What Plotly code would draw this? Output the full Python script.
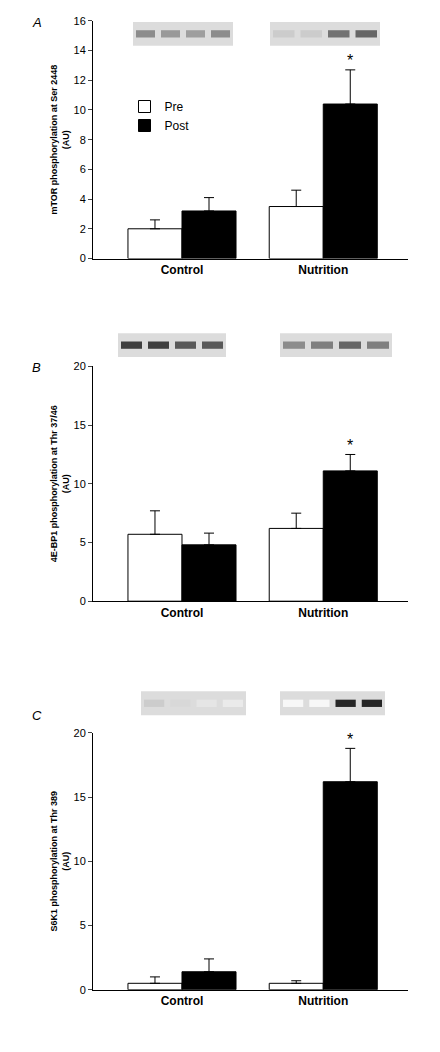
import plotly.graph_objects as go
from plotly.subplots import make_subplots

groups = ["Control", "Nutrition"]
# panel A: mTOR
a_pre = [2.0, 3.5]
a_pre_err = [0.6, 1.1]
a_post = [3.2, 10.4]
a_post_err = [0.9, 2.3]
# panel B: 4E-BP1
b_pre = [5.7, 6.2]
b_pre_err = [2.0, 1.3]
b_post = [4.8, 11.1]
b_post_err = [1.0, 1.4]
# panel C: S6K1
c_pre = [0.5, 0.5]
c_pre_err = [0.5, 0.2]
c_post = [1.4, 16.2]
c_post_err = [1.0, 2.6]

panels = [
    ("A", a_pre, a_pre_err, a_post, a_post_err, 16, 2,
     "mTOR phosphorylation at Ser 2448<br>(AU)"),
    ("B", b_pre, b_pre_err, b_post, b_post_err, 20, 5,
     "4E-BP1 phosphorylation at Thr 37/46<br>(AU)"),
    ("C", c_pre, c_pre_err, c_post, c_post_err, 20, 5,
     "S6K1 phosphorylation at Thr 389<br>(AU)"),
]
domains = [[0.7649, 0.9934], [0.4354, 0.6611], [0.0618, 0.3087]]

fig = make_subplots(rows=3, cols=1)
font = dict(family="Liberation Sans, Arial", size=10, color="black")

for i, (lab, pre, pre_e, post, post_e, ymax, dt, title) in enumerate(panels):
    r = i + 1
    fig.add_trace(go.Bar(x=groups, y=pre, name="Pre", showlegend=(i == 0),
                         marker=dict(color="white", line=dict(color="black", width=1)),
                         error_y=dict(type="data", array=pre_e, arrayminus=[0, 0],
                                      color="black", thickness=1, width=5)), row=r, col=1)
    fig.add_trace(go.Bar(x=groups, y=post, name="Post", showlegend=(i == 0),
                         marker=dict(color="black", line=dict(color="black", width=1)),
                         error_y=dict(type="data", array=post_e, arrayminus=[0, 0],
                                      color="black", thickness=1, width=5)), row=r, col=1)
    yref = "y" if r == 1 else f"y{r}"
    xref = "x" if r == 1 else f"x{r}"
    fig.add_annotation(x=1.19, y=post[1] + post_e[1], xref=xref, yref=yref, text="*",
                       showarrow=False, yshift=9, font=dict(size=16, color="black"))
    fig.update_yaxes(row=r, col=1, range=[0, ymax], dtick=dt, domain=domains[i],
                     showline=True, linecolor="black", ticks="outside", ticklen=4,
                     showgrid=False, zeroline=False, tickfont=dict(size=11, color="black"),
                     title=dict(text="<b>" + title + "</b>", font=dict(size=9, color="black"),
                                standoff=2))
    fig.update_xaxes(row=r, col=1, range=[-0.63, 1.60], showline=True, linecolor="black",
                     ticks="", tickfont=dict(size=12, color="black"),
                     tickvals=groups, ticktext=["<b>Control</b>", "<b>Nutrition</b>"])
    fig.add_annotation(xref="paper", yref="paper", x=-0.2, y=domains[i][1] + 0.008,
                       text="<i>" + lab + "</i>", showarrow=False,
                       font=dict(size=13, color="black"), xanchor="left")

# western blot strips (drawn as grey boxes with bands)
blots = [
    (0.9934 - 0.024, [(125, 225), (262, 372)]),
    (0.6611 + 0.009, [(110, 218), (272, 384)]),
    (0.3087 + 0.017, [(133, 238), (272, 377)]),
]
band_dark = [
    [[0.55, 0.6, 0.62, 0.55], [0.8, 0.8, 0.45, 0.4]],
    [[0.25, 0.25, 0.35, 0.35], [0.55, 0.5, 0.4, 0.5]],
    [[0.8, 0.85, 0.9, 0.92], [0.97, 0.97, 0.15, 0.15]],
]
for (ybot, strips), darks in zip(blots, band_dark):
    for (x0, x1), ds in zip(strips, darks):
        fig.add_shape(type="rect", xref="paper", yref="paper",
                      x0=(x0 - 85) / 315, x1=(x1 - 85) / 315, y0=ybot, y1=ybot + 0.023,
                      fillcolor="#dcdcdc", line=dict(width=0), layer="below")
        w = (x1 - x0) / 4
        for k, d in enumerate(ds):
            g = int(255 * d)
            fig.add_shape(type="rect", xref="paper", yref="paper",
                          x0=(x0 + k * w + 3 - 85) / 315, x1=(x0 + (k + 1) * w - 3 - 85) / 315,
                          y0=ybot + 0.008, y1=ybot + 0.015,
                          fillcolor=f"rgb({g},{g},{g})", line=dict(width=0))

fig.update_layout(width=440, height=1052, margin=dict(l=85, r=40, t=0, b=0),
                  paper_bgcolor="white", plot_bgcolor="white", font=font,
                  barmode="group", bargap=0.235, bargroupgap=0,
                  legend=dict(x=0.1, y=0.925, xanchor="left", yanchor="top",
                              font=dict(size=12, color="black"), bgcolor="rgba(0,0,0,0)",
                              itemwidth=30))
fig.write_html("out.html")
